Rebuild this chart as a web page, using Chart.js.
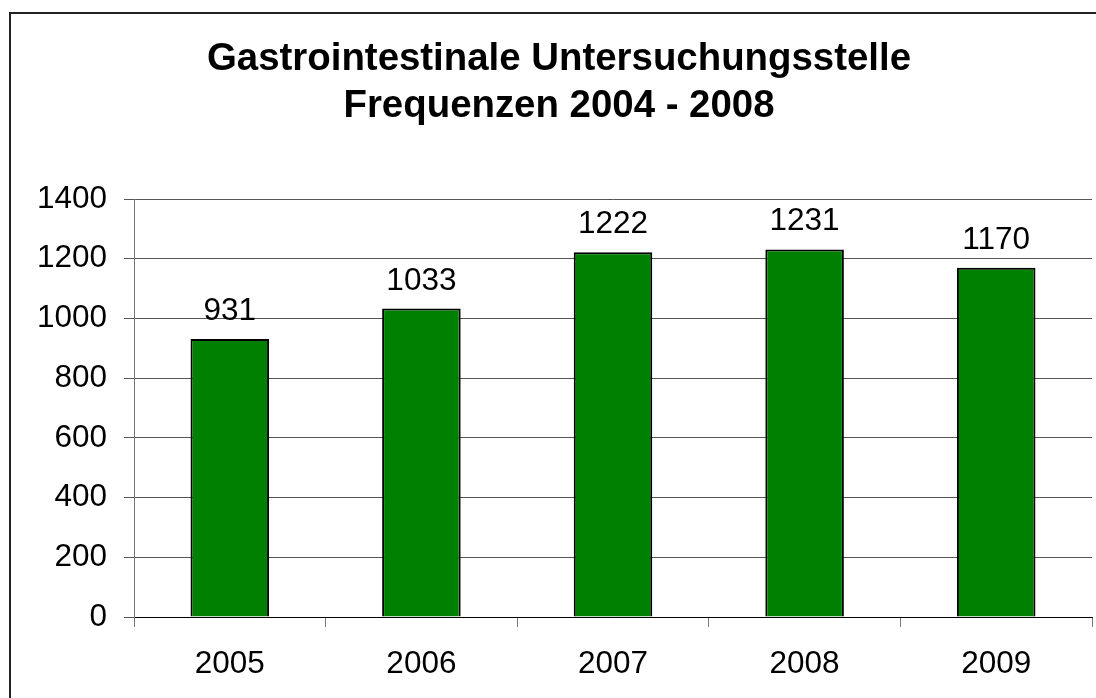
<!DOCTYPE html>
<html>
<head>
<meta charset="utf-8">
<script src="https://cdn.jsdelivr.net/npm/chart.js@4"></script>
<style>
  html, body { margin: 0; padding: 0; background: #fff; }
  #wrap { position: relative; width: 1096px; height: 698px; overflow: hidden; background: #fff; }
  #frame { position: absolute; left: 9px; top: 12px; width: 1200px; height: 800px; border: 2px solid #222; box-sizing: border-box; }
  canvas { position: absolute; left: 0; top: 0; }
</style>
</head>
<body>
<div id="wrap">
  <div id="frame"></div>
  <canvas id="c" width="1096" height="698"></canvas>
</div>
<script>
const titleLines = ['Gastrointestinale Untersuchungsstelle', 'Frequenzen 2004 - 2008'];
const categories = ['2005', '2006', '2007', '2008', '2009'];
const frequencies = [931, 1033, 1222, 1231, 1170];
const yTicks = [0, 200, 400, 600, 800, 1000, 1200, 1400];

const FONT = "'Liberation Sans', Arial, sans-serif";

const valueLabels = {
  id: 'valueLabels',
  afterDatasetsDraw(chart) {
    const ctx = chart.ctx;
    const meta = chart.getDatasetMeta(0);
    ctx.save();
    ctx.font = '31.5px ' + FONT;
    ctx.fillStyle = '#000';
    ctx.textAlign = 'center';
    ctx.textBaseline = 'alphabetic';
    meta.data.forEach((bar, i) => {
      ctx.fillText(String(frequencies[i]), bar.x, bar.y - 19);
    });
    ctx.restore();
  }
};

new Chart(document.getElementById('c'), {
  type: 'bar',
  data: {
    labels: categories,
    datasets: [{
      data: frequencies,
      backgroundColor: '#008000',
      borderColor: '#000',
      borderWidth: 2,
      barPercentage: 0.41,
      categoryPercentage: 1
    }]
  },
  options: {
    responsive: false,
    animation: false,
    layout: { padding: { top: 0, right: 4, bottom: 0, left: 26 } },
    plugins: {
      legend: { display: false },
      tooltip: { enabled: false },
      title: {
        display: true,
        text: titleLines,
        color: '#000',
        font: { family: FONT, size: 38.4, weight: 'bold', lineHeight: 1.224 },
        padding: { top: 36, bottom: 69 }
      }
    },
    scales: {
      x: {
        afterFit(scale) { scale.height = 81; },
        grid: { display: true, drawOnChartArea: false, drawTicks: true, tickLength: 10, color: '#777', offset: true },
        border: { display: true, color: '#000', width: 1 },
        ticks: { color: '#000', font: { family: FONT, size: 31.5 }, padding: 18, maxRotation: 0 }
      },
      y: {
        min: 0,
        max: 1400,
        afterFit(scale) { scale.width = 108; },
        afterBuildTicks(scale) { scale.ticks = yTicks.map(v => ({ value: v })); },
        grid: { color: '#555', lineWidth: 1, tickLength: 10, drawTicks: true },
        border: { display: true, color: '#777', width: 1 },
        ticks: { color: '#000', font: { family: FONT, size: 31.5 }, padding: 17, callback: (v) => String(v) }
      }
    }
  },
  plugins: [valueLabels]
});
</script>
</body>
</html>
